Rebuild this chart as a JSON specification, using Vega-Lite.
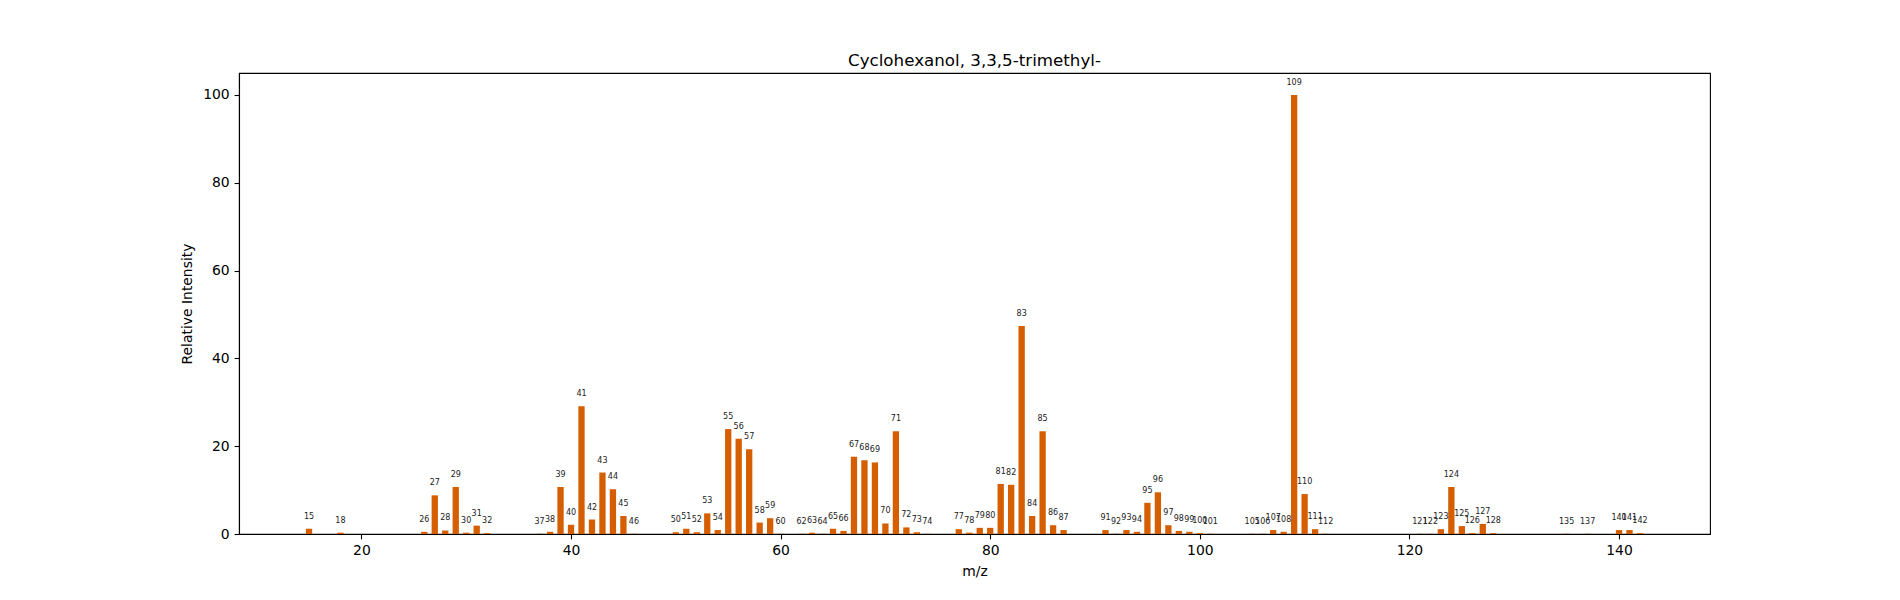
{
  "$schema": "https://vega.github.io/schema/vega-lite/v6.json",
  "width": 1471,
  "height": 461,
  "autosize": {"type": "none"},
  "padding": {"left": 239, "top": 73, "right": 190, "bottom": 66},
  "background": "white",
  "title": {
    "text": "Cyclohexanol, 3,3,5-trimethyl-",
    "fontSize": 16.7,
    "fontWeight": "normal",
    "font": "DejaVu Sans",
    "color": "black",
    "offset": 3,
    "anchor": "middle"
  },
  "data": {
    "values": [
      {"mz": 15, "intensity": 1.2},
      {"mz": 18, "intensity": 0.3},
      {"mz": 26, "intensity": 0.5},
      {"mz": 27, "intensity": 8.8},
      {"mz": 28, "intensity": 0.8},
      {"mz": 29, "intensity": 10.7},
      {"mz": 30, "intensity": 0.3},
      {"mz": 31, "intensity": 1.9},
      {"mz": 32, "intensity": 0.2},
      {"mz": 37, "intensity": 0.05},
      {"mz": 38, "intensity": 0.5},
      {"mz": 39, "intensity": 10.7},
      {"mz": 40, "intensity": 2.1},
      {"mz": 41, "intensity": 29.1},
      {"mz": 42, "intensity": 3.3},
      {"mz": 43, "intensity": 14.0},
      {"mz": 44, "intensity": 10.2},
      {"mz": 45, "intensity": 4.1},
      {"mz": 46, "intensity": 0.05},
      {"mz": 50, "intensity": 0.4},
      {"mz": 51, "intensity": 1.2},
      {"mz": 52, "intensity": 0.4},
      {"mz": 53, "intensity": 4.7},
      {"mz": 54, "intensity": 0.9},
      {"mz": 55, "intensity": 23.9},
      {"mz": 56, "intensity": 21.7},
      {"mz": 57, "intensity": 19.3},
      {"mz": 58, "intensity": 2.6},
      {"mz": 59, "intensity": 3.6},
      {"mz": 60, "intensity": 0.05},
      {"mz": 62, "intensity": 0.05},
      {"mz": 63, "intensity": 0.3},
      {"mz": 64, "intensity": 0.05},
      {"mz": 65, "intensity": 1.2},
      {"mz": 66, "intensity": 0.7},
      {"mz": 67, "intensity": 17.6},
      {"mz": 68, "intensity": 16.8},
      {"mz": 69, "intensity": 16.3},
      {"mz": 70, "intensity": 2.4},
      {"mz": 71, "intensity": 23.4},
      {"mz": 72, "intensity": 1.5},
      {"mz": 73, "intensity": 0.4},
      {"mz": 74, "intensity": 0.05},
      {"mz": 77, "intensity": 1.1},
      {"mz": 78, "intensity": 0.3},
      {"mz": 79, "intensity": 1.4},
      {"mz": 80, "intensity": 1.4},
      {"mz": 81, "intensity": 11.4},
      {"mz": 82, "intensity": 11.2},
      {"mz": 83, "intensity": 47.4},
      {"mz": 84, "intensity": 4.1},
      {"mz": 85, "intensity": 23.4},
      {"mz": 86, "intensity": 2.0},
      {"mz": 87, "intensity": 0.9},
      {"mz": 91, "intensity": 0.9},
      {"mz": 92, "intensity": 0.05},
      {"mz": 93, "intensity": 0.9},
      {"mz": 94, "intensity": 0.5},
      {"mz": 95, "intensity": 7.1},
      {"mz": 96, "intensity": 9.5},
      {"mz": 97, "intensity": 2.0},
      {"mz": 98, "intensity": 0.7},
      {"mz": 99, "intensity": 0.5},
      {"mz": 100, "intensity": 0.2},
      {"mz": 101, "intensity": 0.05},
      {"mz": 105, "intensity": 0.05},
      {"mz": 106, "intensity": 0.05},
      {"mz": 107, "intensity": 0.9},
      {"mz": 108, "intensity": 0.5},
      {"mz": 109, "intensity": 100},
      {"mz": 110, "intensity": 9.1},
      {"mz": 111, "intensity": 1.1},
      {"mz": 112, "intensity": 0.05},
      {"mz": 121, "intensity": 0.05},
      {"mz": 122, "intensity": 0.05},
      {"mz": 123, "intensity": 1.1},
      {"mz": 124, "intensity": 10.7},
      {"mz": 125, "intensity": 1.8},
      {"mz": 126, "intensity": 0.2},
      {"mz": 127, "intensity": 2.3},
      {"mz": 128, "intensity": 0.2},
      {"mz": 135, "intensity": 0.05},
      {"mz": 137, "intensity": 0.05},
      {"mz": 140, "intensity": 0.9},
      {"mz": 141, "intensity": 0.9},
      {"mz": 142, "intensity": 0.2}
    ]
  },
  "encoding": {
    "x": {
      "field": "mz",
      "type": "quantitative",
      "title": "m/z",
      "scale": {"domain": [8.32, 148.68], "nice": false, "zero": false, "padding": 0},
      "axis": {"values": [20, 40, 60, 80, 100, 120, 140], "titlePadding": 7}
    },
    "y": {
      "field": "intensity",
      "type": "quantitative",
      "title": "Relative Intensity",
      "scale": {"domain": [0, 105], "nice": false, "padding": 0},
      "axis": {"values": [0, 20, 40, 60, 80, 100], "titlePadding": 8}
    }
  },
  "layer": [
    {
      "mark": {"type": "bar", "size": 6.3, "color": "#d55e00"}
    },
    {
      "mark": {
        "type": "text",
        "baseline": "bottom",
        "align": "center",
        "dy": -8,
        "fontSize": 8,
        "font": "DejaVu Sans",
        "color": "#222222"
      },
      "encoding": {
        "text": {"field": "mz", "type": "nominal"}
      }
    }
  ],
  "config": {
    "font": "DejaVu Sans",
    "view": {"stroke": "black", "strokeWidth": 1.1},
    "axis": {
      "grid": false,
      "domainColor": "black",
      "domainWidth": 1.1,
      "tickColor": "black",
      "tickWidth": 1.1,
      "tickSize": 4.9,
      "labelPadding": 4.9,
      "labelFontSize": 13.9,
      "labelColor": "black",
      "labelFont": "DejaVu Sans",
      "titleFontSize": 13.9,
      "titleFontWeight": "normal",
      "titleColor": "black",
      "titleFont": "DejaVu Sans",
      "labelFlush": false,
      "labelOverlap": false
    }
  }
}
